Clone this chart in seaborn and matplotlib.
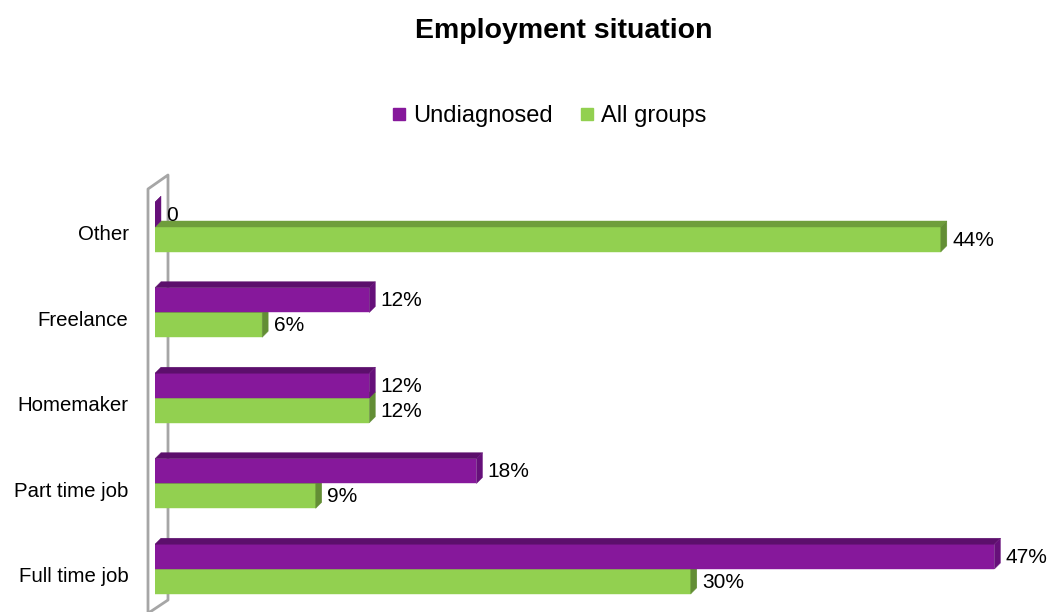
import numpy as np
import pandas as pd
import seaborn as sns
import matplotlib.pyplot as plt
import matplotlib.transforms as mtransforms
from matplotlib.patches import Polygon
from matplotlib.lines import Line2D

categories = ["Other", "Freelance", "Homemaker", "Part time job", "Full time job"]
undiagnosed = [0.0, 0.12, 0.12, 0.18, 0.47]
all_groups = [0.44, 0.06, 0.12, 0.09, 0.30]
groups = ["Undiagnosed", "All groups"]

front = {"Undiagnosed": "#86189B", "All groups": "#92D050"}
top_c = {"Undiagnosed": "#5C0F6C", "All groups": "#6F9D3C"}
side_c = {"Undiagnosed": "#66107A", "All groups": "#638E35"}

df = pd.DataFrame({
    "category": categories * 2,
    "value": undiagnosed + all_groups,
    "group": [groups[0]] * len(categories) + [groups[1]] * len(categories),
})

sns.set_theme(style="white")
plt.rcParams["font.family"] = ["Liberation Sans", "DejaVu Sans"]
plt.rcParams["text.color"] = "black"
plt.rcParams["ytick.color"] = "black"

W, H = 1051, 612
fig = plt.figure(figsize=(W / 100, H / 100), dpi=100)
ax = fig.add_axes([155 / W, 0, (1048 - 155) / W, 1 - 184.25 / H])

sns.barplot(data=df, x="value", y="category", hue="group", order=categories,
            hue_order=groups, palette=front, orient="h", width=0.58,
            saturation=1, ax=ax, legend=True)

ax.set_xlim(0, 0.5)
ax.set_ylim(4.503, -0.5)

# fake 3D depth for each bar
dx = 6 / (1048 - 155) * 0.5
dy = 6 / 85.5
bars = [p for p in ax.patches if p.get_height() > 0]
for i, p in enumerate(bars):
    g = groups[0] if i < len(categories) else groups[1]
    z = 3 if g == groups[0] else 2
    p.set_zorder(z)
    p.set_edgecolor(front[g])
    p.set_linewidth(0.3)
    x0, y0, w, h = p.get_x(), p.get_y(), p.get_width(), p.get_height()
    ax.add_patch(Polygon([(x0, y0), (x0 + w, y0), (x0 + w + dx, y0 - dy), (x0 + dx, y0 - dy)],
                         closed=True, fc=top_c[g], ec=top_c[g], lw=0.3, zorder=z))
    ax.add_patch(Polygon([(x0 + w, y0), (x0 + w, y0 + h), (x0 + w + dx, y0 + h - dy), (x0 + w + dx, y0 - dy)],
                         closed=True, fc=side_c[g], ec=side_c[g], lw=0.3, zorder=z))
    v = p.get_width()
    lab = "0" if v == 0 else f"{v:.0%}"
    ax.text(x0 + w + dx + 0.003, y0 + h / 2 + 0.01, lab, ha="left", va="center",
            fontsize=15, color="black", zorder=5)

ax.set_xlabel("")
ax.set_ylabel("")
ax.set_xticks([])
ax.tick_params(axis="y", length=0, pad=19, labelsize=14.7)
shift = mtransforms.ScaledTranslation(0, -6 / 100, fig.dpi_scale_trans)
for t in ax.get_yticklabels():
    t.set_transform(t.get_transform() + shift)
for s in ax.spines.values():
    s.set_visible(False)

# back wall outline, drawn behind the bars
def px(x, y):
    return (x / W, 1 - y / H)

wall = [(148, 612), (148, 189), (168, 175), (168, 600), (150, 612)]
xs, ys = zip(*[px(*q) for q in wall])
ax.add_line(Line2D(xs, ys, color="#A6A6A6", lw=2, zorder=0.5,
                   transform=fig.transFigure, clip_on=False))

ax.legend_.remove()
leg_handles = [Line2D([], [], marker="s", ls="", markersize=8.5, color=front[g]) for g in groups]
fig.legend(leg_handles, groups, loc="center", bbox_to_anchor=(546 / W, 1 - 116 / H),
           ncol=2, frameon=False, fontsize=17, handletextpad=0.0, columnspacing=0.85,
           handlelength=1.2)

fig.suptitle("Employment situation", x=564 / W, y=1 - 31 / H, va="center",
             fontsize=20.5, fontweight="bold", color="black")

fig.savefig("out.png", dpi=100)
